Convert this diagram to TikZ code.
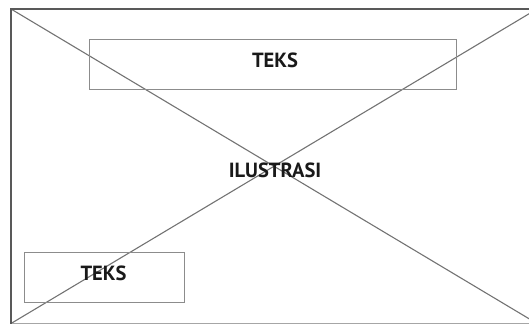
\documentclass[tikz,border=0pt]{standalone}
\usepackage{fontspec}
\setmainfont{PT Sans}
\begin{document}
\begin{tikzpicture}[x=1pt,y=-1pt,
  frame/.style={draw=black!65,line width=2pt},
  cross/.style={draw=black!55,line width=1.1pt},
  textbox/.style={draw=black!45,line width=0.9pt,inner sep=0pt,anchor=north west},
  label/.style={font=\bfseries\fontsize{20.5}{22}\selectfont,text=black!90,inner sep=0pt}]
  \useasboundingbox (0,0) rectangle (529,327);
  % corners of the illustration frame (right side runs past the page edge)
  \coordinate (tl) at (11,9);
  \coordinate (bl) at (11,323.5);
  \coordinate (tr) at (537,9);
  \coordinate (br) at (537,323.5);
  % placeholder cross
  \draw[cross] (tl) -- (br);
  \draw[cross] (bl) -- (tr);
  % frame
  \draw[draw=black!35,line width=1pt] (bl) -- (br);
  \draw[frame] (bl) -- (tl) -- (tr);
  % text boxes
  \node[textbox,minimum width=367pt,minimum height=50pt] (top) at (89,39) {};
  \node[label] (toptext) at (275,60) {TEKS};
  \node[textbox,minimum width=160pt,minimum height=50pt] (bottom) at (24,252) {};
  \node[label] (bottomtext) at (103.5,273) {TEKS};
  \node[label] (illus) at (275,170) {ILUSTRASI};
\end{tikzpicture}
\end{document}
